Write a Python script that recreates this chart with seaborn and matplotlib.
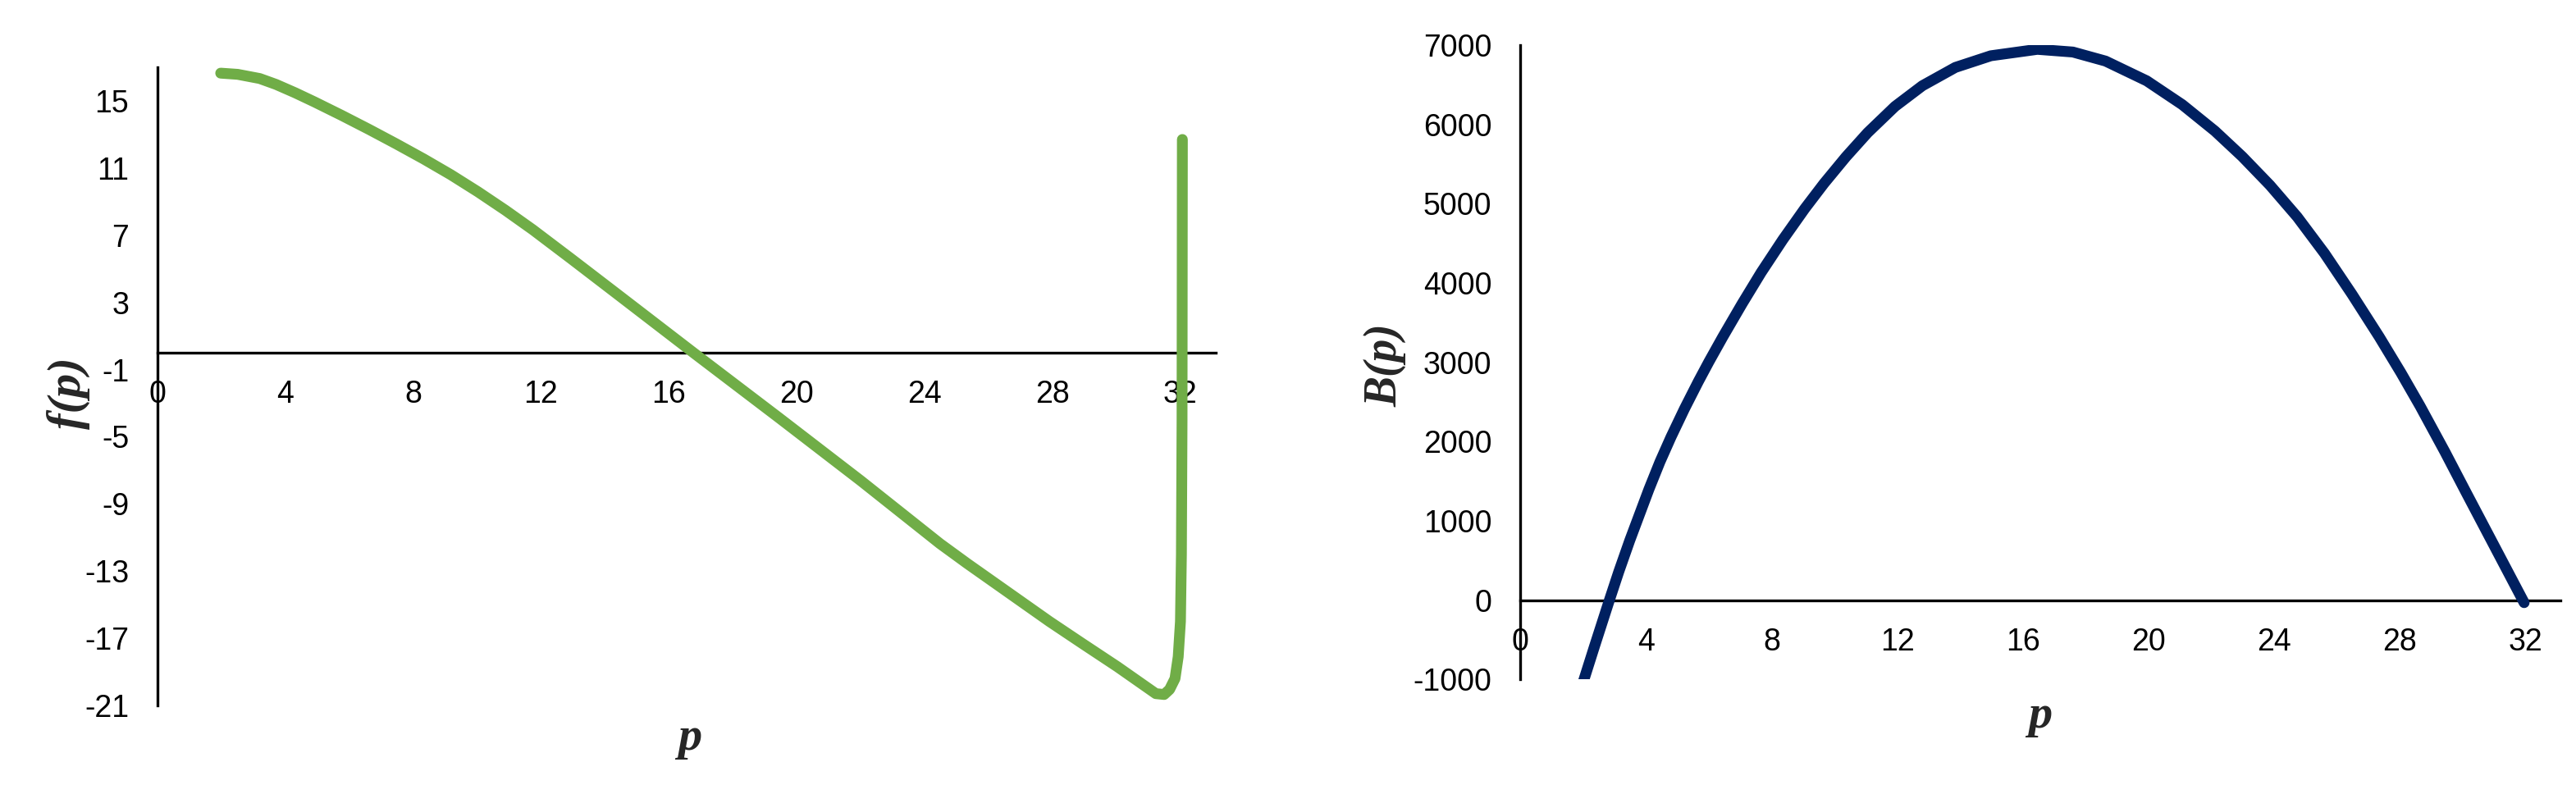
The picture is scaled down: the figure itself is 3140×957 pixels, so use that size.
import matplotlib
matplotlib.use("Agg")
import matplotlib.pyplot as plt
import seaborn as sns

# ---- Values
# left panel: f(p)
p_f = [1.98, 2.51, 3.20, 3.71, 4.31, 4.91, 5.76, 6.62, 7.47, 8.33, 9.18,
       10.03, 10.89, 11.74, 12.94, 14.31, 16.79, 19.44, 22.00, 24.48, 25.33,
       27.90, 28.92, 30.03, 30.63, 31.23, 31.49, 31.66, 31.83, 31.93,
       32.00, 32.03, 32.05, 32.06]
f_vals = [16.65, 16.58, 16.33, 15.98, 15.48, 14.94, 14.14, 13.30, 12.44,
          11.54, 10.60, 9.58, 8.48, 7.33, 5.60, 3.60, -0.03, -3.87, -7.62,
          -11.37, -12.55, -16.00, -17.30, -18.70, -19.50, -20.30, -20.35,
          -20.05, -19.40, -18.10, -16.00, -12.00, -4.00, 12.70]

# right panel: B(p)  (first point sits below the axis floor and is clipped)
p_b = [2.00, 2.36, 2.84, 3.14, 3.49, 4.10, 4.45, 4.80, 5.23, 5.67, 6.01,
       6.45, 7.06, 7.67, 8.36, 9.06, 9.67, 10.37, 11.06, 11.93, 12.80, 13.85,
       14.98, 16.46, 17.59, 18.63, 19.94, 21.07, 22.11, 22.98, 23.86, 24.73,
       25.60, 26.47, 27.34, 28.03, 28.64, 29.43, 30.12, 31.95]
b_vals = [-1040, -590, 0, 360, 755, 1400, 1745, 2057, 2414, 2757, 3009,
          3321, 3736, 4133, 4547, 4939, 5256, 5592, 5896, 6227, 6488, 6719,
          6866, 6947, 6913, 6799, 6550, 6250, 5917, 5595, 5234, 4834,
          4373, 3860, 3321, 2869, 2448, 1871, 1347, -30]

x_ticks = [0, 4, 8, 12, 16, 20, 24, 28, 32]
f_ticks = [-21, -17, -13, -9, -5, -1, 3, 7, 11, 15]
b_ticks = [-1000, 0, 1000, 2000, 3000, 4000, 5000, 6000, 7000]

GREEN = "#70AD47"
NAVY = "#002060"

sns.set_style("white")
plt.rcParams["font.family"] = ["Liberation Sans", "DejaVu Sans"]
plt.rcParams["axes.unicode_minus"] = False

label_font = {"family": ["Liberation Serif", "DejaVu Serif"],
              "style": "italic", "weight": "bold", "size": 40}


def style_axis(ax, ylim, yticks):
    ax.set_xlim(0, 33.1)
    ax.set_ylim(*ylim)
    ax.set_xticks(x_ticks)
    ax.set_yticks(yticks)
    for s in ("top", "right"):
        ax.spines[s].set_visible(False)
    # Excel-style: horizontal axis crosses at zero
    ax.spines["bottom"].set_position(("data", 0))
    for s in ("left", "bottom"):
        ax.spines[s].set_linewidth(2.4)
        ax.spines[s].set_color("black")
    ax.tick_params(length=0, labelsize=27, colors="black")
    ax.tick_params(axis="x", pad=24)
    ax.tick_params(axis="y", pad=25)
    ax.grid(False)


fig = plt.figure(figsize=(31.4, 9.57), dpi=100)
ax1 = fig.add_axes([0.0611, 0.1014, 0.4108, 0.8129])
ax2 = fig.add_axes([0.5901, 0.1343, 0.4038, 0.8082])

sns.lineplot(x=p_f, y=f_vals, sort=False, estimator=None, color=GREEN,
             linewidth=9.5, ax=ax1)
sns.lineplot(x=p_b, y=b_vals, sort=False, estimator=None, color=NAVY,
             linewidth=9.5, ax=ax2)
for ax in (ax1, ax2):
    for ln in ax.lines:
        ln.set_solid_capstyle("round")
        ln.set_solid_joinstyle("round")
        ln.set_zorder(3)

style_axis(ax1, (-21, 17), f_ticks)
style_axis(ax2, (-1000, 7000), b_ticks)

ax1.set_ylabel("f(p)", fontdict={**label_font, "size": 42})
ax1.set_xlabel("p", fontdict={**label_font, "size": 42})
ax2.set_ylabel("B(p)", fontdict=label_font)
ax2.set_xlabel("p", fontdict={**label_font, "size": 42})

for ax, ycoords, xcoords in ((ax1, (-0.0837, 0.4897), (0.503, -0.052)),
                             (ax2, (-0.1293, 0.4958), (0.500, -0.058))):
    ax.yaxis.set_label_coords(*ycoords)
    ax.yaxis.label.set_verticalalignment("center")
    ax.xaxis.set_label_coords(*xcoords)
    ax.xaxis.label.set_verticalalignment("center")

fig.savefig("out.png", dpi=100, facecolor="white")
